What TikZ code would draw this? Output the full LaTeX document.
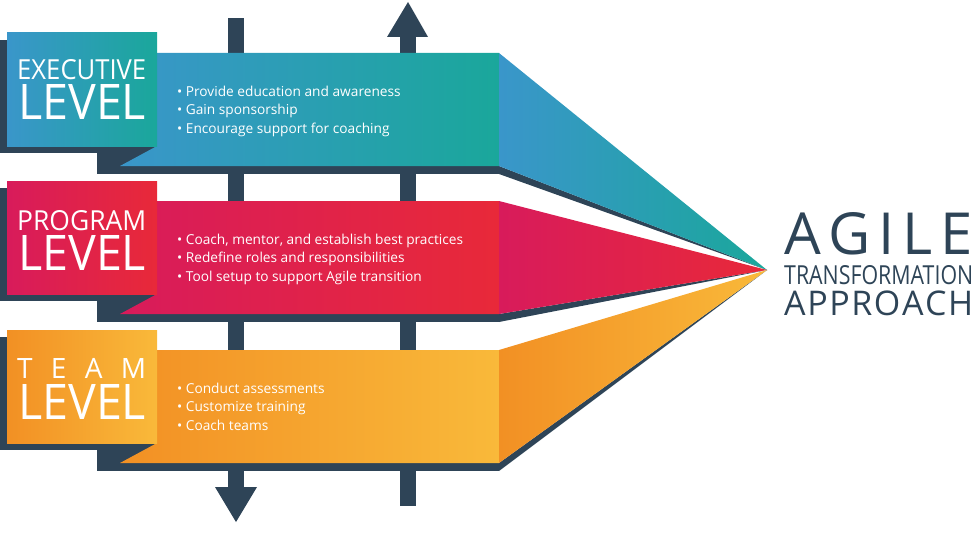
\documentclass[tikz,border=0pt]{standalone}
\usepackage{fontspec}
\usepackage{graphicx}
\setmainfont{Open Sans}
\usetikzlibrary{positioning}

\definecolor{slate}{HTML}{2E4457}
\definecolor{execA}{HTML}{3A96CA}
\definecolor{execB}{HTML}{1AA79B}
\definecolor{progA}{HTML}{D81B5B}
\definecolor{progB}{HTML}{E82939}
\definecolor{teamA}{HTML}{F29024}
\definecolor{teamB}{HTML}{F9B93A}

\tikzset{
  backing/.style={fill=slate},
  levelhead/.style={anchor=base west, inner sep=0pt, text=white},
  pointlist/.style={anchor=base west, inner sep=0pt, text=white, align=left,
    font=\fontsize{13.7}{18.2}\selectfont},
  bigtitle/.style={anchor=base west, inner sep=0pt, text=slate}
}

\begin{document}
\begin{tikzpicture}[x=1pt,y=-1pt]
\useasboundingbox (0,0) rectangle (978,551);
\coordinate (apex) at (767,270);

% the two vertical arrows behind the levels
\fill[backing] (228,18) rectangle (244,490);
\fill[backing] (215,487) -- (257,487) -- (236,522) -- cycle;
\fill[backing] (400,36) rectangle (416,506);
\fill[backing] (387,37) -- (428,37) -- (408,2) -- cycle;

% levels: backing, band, wedge to the apex, label box
\foreach \o/\ca/\cb in {0/execA/execB, 148/progA/progB, 297/teamA/teamB} {
  \fill[backing] (0,40+\o) rectangle (150,153+\o);
  \fill[backing] (97,146+\o) rectangle (499,174+\o);
  \fill[backing] (499,166+\o) -- (apex) -- (499,174+\o) -- cycle;
  \shade[left color=\ca, right color=\cb] (157,53+\o) -- (499,53+\o) -- (499,166+\o)
    -- (120,166+\o) -- (157,146+\o) -- cycle;
  \shade[left color=\ca, right color=\cb] (499,53+\o) -- (apex) -- (499,166+\o) -- cycle;
  \shade[left color=\ca, right color=\cb] (7,33+\o) rectangle (157,146+\o);
}

% executive
\node[levelhead] (exechead) at (17,80) {\resizebox{129pt}{20pt}{EXECUTIVE}};
\node[levelhead] (execlevel) at (18,120) {\resizebox{128pt}{35pt}{LEVEL}};
\node[pointlist] (execlist) at (177,133) {• Provide education and awareness\\
  • Gain sponsorship\\ • Encourage support for coaching};

% program
\node[levelhead] (proghead) at (17,230) {\resizebox{129pt}{20pt}{PROGRAM}};
\node[levelhead] (proglevel) at (18,270) {\resizebox{128pt}{35pt}{LEVEL}};
\node[pointlist] (proglist) at (177,281) {• Coach, mentor, and establish best practices\\
  • Redefine roles and responsibilities\\ • Tool setup to support Agile transition};

% team
\node[levelhead] (teamhead) at (17,378) {\fontsize{28}{28}\selectfont
  \makebox[129pt][s]{T\hfill E\hfill A\hfill M}};
\node[levelhead] (teamlevel) at (18,419) {\resizebox{128pt}{35pt}{LEVEL}};
\node[pointlist] (teamlist) at (177,430) {• Conduct assessments\\
  • Customize training\\ • Coach teams};

% title on the right
\node[bigtitle] (agile) at (784,254) {\fontsize{58}{58}\selectfont
  \makebox[189pt][s]{A\hfill G\hfill I\hfill L\hfill E}};
\node[bigtitle] (transform) at (784,284) {\resizebox{189pt}{19pt}{TRANSFORMATION}};
\node[bigtitle] (approach) at (784,315) {\fontsize{34}{34}\selectfont
  \makebox[189pt][s]{A\hfill P\hfill P\hfill R\hfill O\hfill A\hfill C\hfill H}};
\end{tikzpicture}
\end{document}
